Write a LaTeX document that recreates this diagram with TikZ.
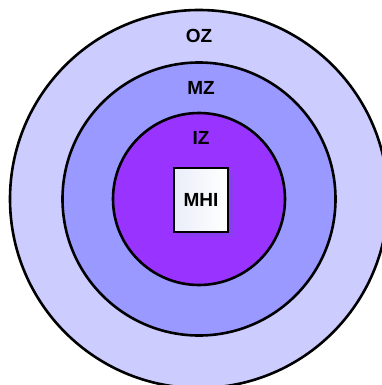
\documentclass[tikz,border=0pt]{standalone}
\usepackage{fontspec}
\setmainfont{Liberation Sans}
\usetikzlibrary{positioning,shadows}
\definecolor{ozfill}{RGB}{204,204,255}
\definecolor{mzfill}{RGB}{153,153,255}
\definecolor{izfill}{RGB}{153,51,255}
\definecolor{boxshade}{RGB}{234,238,248}
\definecolor{shadowfill}{RGB}{138,60,240}
\begin{document}
\begin{tikzpicture}[x=1pt, y=-1pt, node distance=20pt]
    \tikzstyle{zone} = [circle, draw, line width=2.6pt, inner sep=0pt]
    \tikzstyle{lbl} = [font=\fontsize{19}{22}\selectfont\bfseries, inner sep=0pt]
    \tikzstyle{unit} = [rectangle, draw, line width=2pt, left color=boxshade, right color=white, minimum width=54pt, minimum height=64pt, inner sep=0pt,
        drop shadow={shadow xshift=5pt, shadow yshift=-5pt, fill=shadowfill, opacity=1}]

    \useasboundingbox (0,0) rectangle (382,385);
    \clip (0,0) rectangle (382,385);

    % Zones
    \node [zone, fill=ozfill, minimum size=378pt] (oz) at (199,199) {};
    \node [zone, fill=mzfill, minimum size=273pt] (mz) at (199,199) {};
    \node [zone, fill=izfill, minimum size=172pt] (iz) at (199,199) {};

    % Labels
    \node [lbl, below=of oz.north] (ozlabel) {OZ};
    \node [lbl, below=of mz.north, xshift=2pt] (mzlabel) {MZ};
    \node [lbl, below=of iz.north, xshift=2pt] (izlabel) {IZ};

    % Unit
    \node [unit, font=\fontsize{19}{22}\selectfont\bfseries] (mhi) at (201,200) {MHI};
\end{tikzpicture}
\end{document}
